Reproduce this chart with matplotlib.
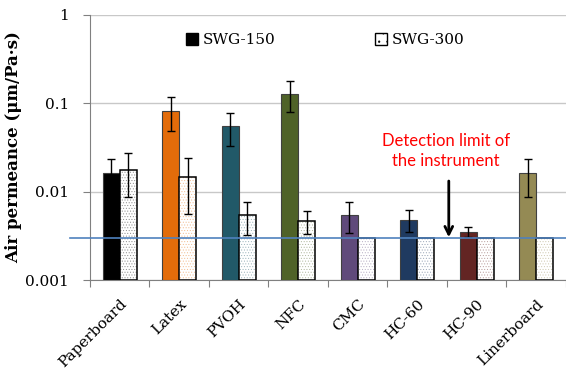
import numpy as np
import matplotlib.pyplot as plt
from matplotlib.colors import to_rgb
from matplotlib.patches import Patch

categories = ["Paperboard", "Latex", "PVOH", "NFC", "CMC", "HC-60", "HC-90", "Linerboard"]
colors = ["#000000", "#E36C0A", "#215968", "#4F6228", "#604A7B", "#1F3A60", "#632523", "#948A54"]

# SWG-150: value, lower and upper end of error bar (nan = no bar)
swg150 = [0.0163, 0.082, 0.0555, 0.128, 0.0054, 0.0048, 0.0035, 0.0163]
swg150_lo = [0.0115, 0.0486, 0.033, 0.080, 0.0034, 0.0035, 0.0031, 0.0087]
swg150_hi = [0.0234, 0.118, 0.078, 0.179, 0.0076, 0.0062, 0.0040, 0.0234]

# SWG-300
swg300 = [0.0176, 0.0147, 0.0054, 0.00466, 0.003, 0.003, 0.003, 0.003]
swg300_lo = [0.0087, 0.0056, 0.0032, 0.0033, np.nan, np.nan, np.nan, np.nan]
swg300_hi = [0.0274, 0.024, 0.0076, 0.0060, np.nan, np.nan, np.nan, np.nan]

detection_limit = 0.003

serif = "DejaVu Serif"
plt.rcParams["hatch.linewidth"] = 0.4

fig = plt.figure(figsize=(5.66, 3.71), dpi=100)
ax = fig.add_axes([0.159, 0.245, 0.841, 0.715])

x = np.arange(len(categories)) + 0.5
w = 0.286
bottom = 0.001

v150 = np.array(swg150)
v300 = np.array(swg300)

ax.bar(x - w / 2, v150 - bottom, w, bottom=bottom, color=colors,
       edgecolor="#404040", linewidth=0.8, zorder=3)
ax.errorbar(x - w / 2, v150,
            yerr=[v150 - np.array(swg150_lo), np.array(swg150_hi) - v150],
            fmt="none", ecolor="black", elinewidth=1, capsize=3, capthick=1, zorder=4)

# dotted SWG-300 bars: light dots in category colour, black outline on top
dot_colors = [tuple(0.45 * np.array(to_rgb(c)) + 0.55) for c in colors]
ax.bar(x + w / 2, v300 - bottom, w, bottom=bottom, color="white",
       edgecolor=dot_colors, hatch="......", linewidth=0, zorder=3)
ax.bar(x + w / 2, v300 - bottom, w, bottom=bottom, fill=False,
       edgecolor="black", linewidth=1.1, zorder=3)
lo3 = np.array(swg300_lo)
hi3 = np.array(swg300_hi)
m = ~np.isnan(lo3)
ax.errorbar((x + w / 2)[m], v300[m], yerr=[v300[m] - lo3[m], hi3[m] - v300[m]],
            fmt="none", ecolor="black", elinewidth=1, capsize=3, capthick=1, zorder=4)

ax.axhline(detection_limit, xmin=-0.042, xmax=1, color="#4F81BD", linewidth=1.2,
           clip_on=False, zorder=5)

ax.set_yscale("log")
ax.set_ylim(0.001, 1)
ax.set_xlim(0, len(categories))
ax.set_yticks([0.001, 0.01, 0.1, 1])
ax.set_yticklabels(["0.001", "0.01", "0.1", "1"], fontfamily=serif, fontsize=11)
ax.minorticks_off()
ax.yaxis.grid(True, color="#C8C8C8", linewidth=1, zorder=0)

ax.set_xticks(np.arange(len(categories) + 1))
ax.set_xticklabels([])
ax.set_xticks(x, minor=True)
ax.set_xticklabels(categories, minor=True, rotation=45, ha="right",
                   rotation_mode="anchor", fontfamily=serif, fontsize=11)
ax.tick_params(axis="x", which="major", length=5, color="#808080", direction="out")
ax.tick_params(axis="x", which="minor", length=0, pad=12)
ax.tick_params(axis="y", length=5, color="#808080", pad=10)

for s in ["top", "right"]:
    ax.spines[s].set_visible(False)
for s in ["left", "bottom"]:
    ax.spines[s].set_color("#808080")

ax.set_ylabel("Air permeance (μm/Pa·s)", fontfamily=serif, fontweight="bold", fontsize=12)
ax.yaxis.set_label_coords(-0.142, 0.5)

handles = [Patch(facecolor="black", edgecolor="black"),
           Patch(facecolor="white", edgecolor="black", hatch="..")]
ax.legend(handles, ["SWG-150", "SWG-300"], ncol=2, frameon=False,
          loc="center", bbox_to_anchor=(0.494, 0.905), columnspacing=6.5,
          handlelength=0.8, handleheight=0.8, handletextpad=0.3,
          prop={"family": serif, "size": 11})

ax.text(5.98, 0.029, "Detection limit of\nthe instrument", ha="center", va="center",
        color="red", fontsize=12, fontfamily="Lato", linespacing=1.3)
ax.annotate("", xy=(6.03, 0.00305), xytext=(6.03, 0.0132),
            arrowprops=dict(arrowstyle="->", color="black", lw=2, mutation_scale=14,
                            shrinkA=0, shrinkB=0))

fig.savefig("out.png", dpi=100)
